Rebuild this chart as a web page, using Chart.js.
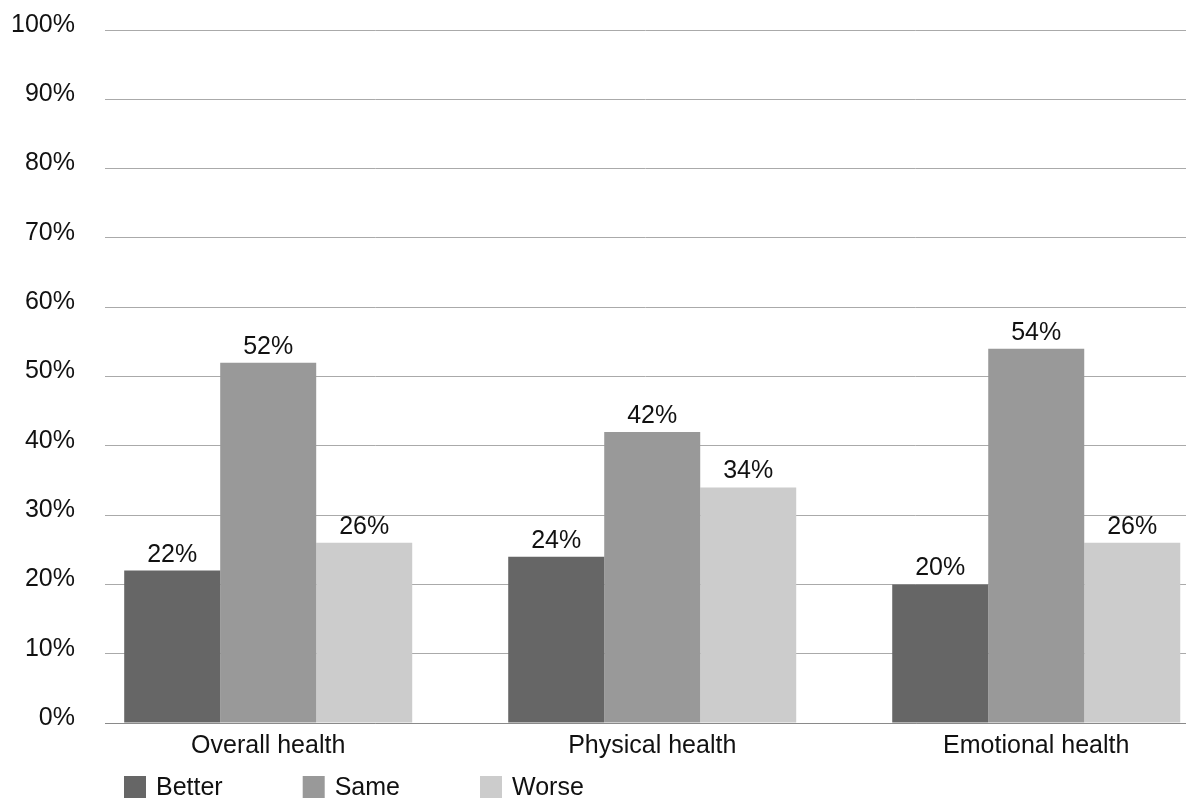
<!DOCTYPE html>
<html>
<head>
<meta charset="utf-8">
<script src="https://cdn.jsdelivr.net/npm/chart.js@4/dist/chart.umd.min.js"></script>
<style>
  html, body { margin: 0; padding: 0; background: #fff; overflow: hidden; }
  #wrap { width: 1186px; height: 802px; position: relative; }
</style>
</head>
<body>
<div id="wrap"><canvas id="healthChart"></canvas></div>
<script>
// Health change by area - grouped bars

const categories = ['Overall health', 'Physical health', 'Emotional health'];
const seriesNames = ['Better', 'Same', 'Worse'];
const better = [22, 24, 20];
const same = [52, 42, 54];
const worse = [26, 34, 26];
const yTicks = [0, 10, 20, 30, 40, 50, 60, 70, 80, 90, 100];

const FONT = '"Liberation Sans", Arial, Helvetica, sans-serif';
const colors = ['#666666', '#999999', '#cccccc'];

// value labels above each bar
const barLabels = {
    id: 'barLabels',
    afterDatasetsDraw(chart) {
        const ctx = chart.ctx;
        ctx.save();
        ctx.font = '25px ' + FONT;
        ctx.fillStyle = '#111';
        ctx.textAlign = 'center';
        ctx.textBaseline = 'alphabetic';
        chart.data.datasets.forEach((ds, di) => {
            chart.getDatasetMeta(di).data.forEach((bar, i) => {
                ctx.fillText(ds.data[i].y + '%', bar.x, bar.y - 9);
            });
        });
        ctx.restore();
    }
};

// legend drawn bottom-left under the plot
const bottomLegend = {
    id: 'bottomLegend',
    afterDraw(chart) {
        const ctx = chart.ctx;
        const box = 22;
        const cy = chart.height - 15;
        let x = chart.chartArea.left + 19;
        ctx.save();
        ctx.font = '25px ' + FONT;
        ctx.textBaseline = 'middle';
        ctx.textAlign = 'left';
        chart.data.datasets.forEach((ds) => {
            ctx.fillStyle = ds.backgroundColor;
            ctx.fillRect(x, cy - box / 2, box, box);
            ctx.fillStyle = '#111';
            ctx.fillText(ds.label, x + box + 10, cy + 1);
            x += box + 10 + ctx.measureText(ds.label).width + 80;
        });
        ctx.restore();
    }
};

const seriesValues = [better, same, worse];

new Chart(document.getElementById('healthChart'), {
    type: 'bar',
    data: {
        datasets: seriesNames.map((name, s) => ({
            label: name,
            data: seriesValues[s].map((v, i) => ({ x: i, y: v })),
            backgroundColor: colors[s],
            borderWidth: 0
        }))
    },
    options: {
        responsive: true,
        maintainAspectRatio: false,
        animation: false,
        layout: {
            padding: { top: 0, bottom: 33, left: 0, right: 0 }
        },
        datasets: {
            bar: { categoryPercentage: 0.75, barPercentage: 1 }
        },
        plugins: {
            legend: { display: false },
            tooltip: { enabled: false }
        },
        scales: {
            x: {
                type: 'linear',
                offset: false,
                min: -0.425,
                max: 2.39,
                afterBuildTicks: (axis) => {
                    axis.ticks = categories.map((c, i) => ({ value: i }));
                },
                grid: { display: false, drawTicks: false, offset: false },
                border: { color: '#8a8a8a', width: 1 },
                ticks: {
                    callback: (v) => categories[v],
                    color: '#111',
                    font: { family: FONT, size: 25 },
                    padding: 8,
                    autoSkip: false,
                    maxRotation: 0
                }
            },
            y: {
                min: 0,
                max: 100,
                afterBuildTicks: (axis) => {
                    axis.ticks = yTicks.map((v) => ({ value: v }));
                },
                afterFit: (axis) => {
                    axis.width = 105;
                    axis.paddingTop = 30;
                    axis.paddingBottom = 15;
                },
                grid: { color: '#aaaaaa', drawTicks: false },
                border: { display: false },
                ticks: {
                    callback: (v) => v + '%',
                    color: '#111',
                    font: { family: FONT, size: 25 },
                    padding: 30,
                    labelOffset: -5
                }
            }
        }
    },
    plugins: [barLabels, bottomLegend]
});
</script>
</body>
</html>
